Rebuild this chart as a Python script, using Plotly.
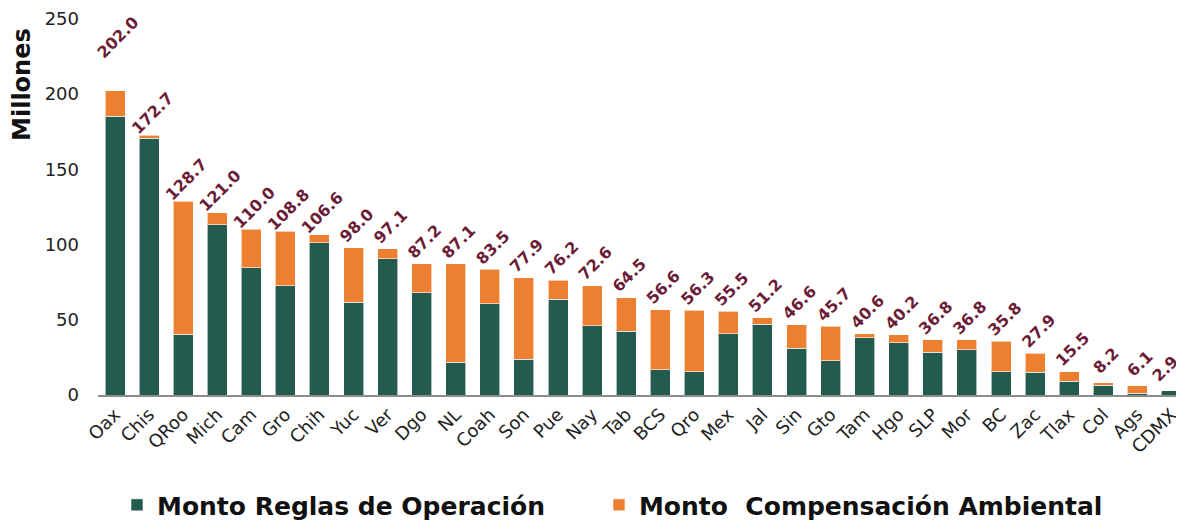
import plotly.graph_objects as go

categories = ["Oax", "Chis", "QRoo", "Mich", "Cam", "Gro", "Chih", "Yuc", "Ver", "Dgo", "NL",
              "Coah", "Son", "Pue", "Nay", "Tab", "BCS", "Qro", "Mex", "Jal", "Sin", "Gto",
              "Tam", "Hgo", "SLP", "Mor", "BC", "Zac", "Tlax", "Col", "Ags", "CDMX"]
totals = [202.0, 172.7, 128.7, 121.0, 110.0, 108.8, 106.6, 98.0, 97.1, 87.2, 87.1,
          83.5, 77.9, 76.2, 72.6, 64.5, 56.6, 56.3, 55.5, 51.2, 46.6, 45.7,
          40.6, 40.2, 36.8, 36.8, 35.8, 27.9, 15.5, 8.2, 6.1, 2.9]
reglas = [185.3, 170.7, 40.5, 113.0, 84.5, 72.5, 101.3, 61.7, 90.5, 67.9, 21.7,
          60.6, 23.9, 63.7, 46.0, 42.5, 16.8, 15.5, 40.7, 46.9, 31.0, 22.8,
          38.0, 34.7, 28.5, 30.0, 15.3, 15.0, 9.3, 6.4, 1.3, 2.9]
compensacion = [round(t - r, 1) for t, r in zip(totals, reglas)]
y_ticks = [0, 50, 100, 150, 200, 250]

GREEN = "#235B4E"
ORANGE = "#ED7F31"
LABEL = "#6B1C36"
FONT = "DejaVu Sans"

fig = go.Figure()
fig.add_trace(go.Bar(x=categories, y=reglas, name="Monto Reglas de Operación",
                     legend="legend",
                     marker=dict(color=GREEN, line=dict(color="rgba(255,255,255,0.6)", width=1))))
fig.add_trace(go.Bar(x=categories, y=compensacion, name="Monto  Compensación Ambiental",
                     legend="legend2",
                     marker=dict(color=ORANGE, line=dict(color="rgba(255,255,255,0.6)", width=1))))

n = len(categories)
for i, (c, t) in enumerate(zip(categories, totals)):
    fig.add_annotation(x=c, y=t, text=f"<b>{t:.1f}</b>", showarrow=False,
                       textangle=-45, xanchor="center", yanchor="middle",
                       xshift=(-6 if i == n - 1 else 3), yshift=(53 if i == 0 else 22),
                       font=dict(family=FONT, size=16, color=LABEL))

fig.add_annotation(xref="paper", yref="paper", x=-0.07, y=0.825, text="<b>Millones</b>",
                   showarrow=False, textangle=-90, xanchor="center", yanchor="middle",
                   font=dict(family=FONT, size=24, color="#111111"))

legend_style = dict(orientation="h", y=-0.292, yanchor="middle", xanchor="left",
                    font=dict(family=FONT, size=25, color="#111111", weight="bold"),
                    bgcolor="rgba(0,0,0,0)")

fig.update_layout(
    barmode="stack",
    bargap=0.413,
    width=1176, height=514,
    margin=dict(l=90, r=0, t=10, b=127, autoexpand=False),
    plot_bgcolor="white", paper_bgcolor="white",
    font=dict(family=FONT, color="#222222"),
    showlegend=True,
    legend=dict(x=0.0175, **legend_style),
    legend2=dict(x=0.4613, **legend_style),
    xaxis=dict(tickangle=-45, tickfont=dict(size=18, color="#222222"),
               range=[-0.5, 31.37],
               showline=True, linecolor="#8C8C8C", linewidth=2, ticks="",
               showgrid=False, automargin=False),
    yaxis=dict(range=[0, 250.5], tickvals=y_ticks,
               tickfont=dict(size=18, color="#222222"), showgrid=False,
               zeroline=False, showline=False, ticks="", ticklabelstandoff=18,
               automargin=False),
)

fig.write_html("out.html")
